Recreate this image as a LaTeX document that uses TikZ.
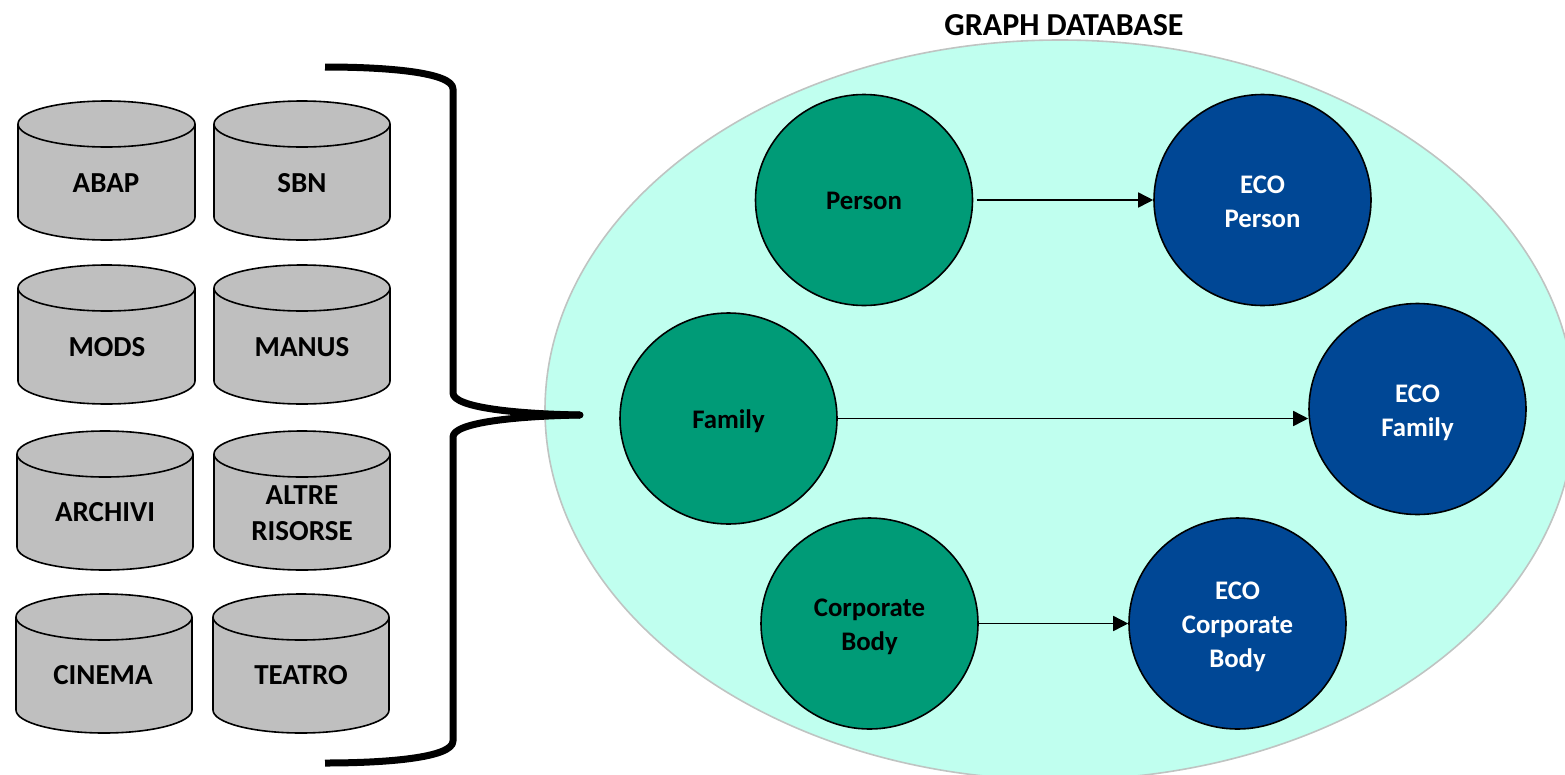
\documentclass[tikz,border=0pt]{standalone}
\usepackage{fontspec}
\setmainfont{Carlito}
\usetikzlibrary{shapes.geometric,arrows.meta}
\definecolor{cylgray}{HTML}{BFBFBF}
\definecolor{dbfill}{HTML}{C0FFEF}
\definecolor{dbline}{HTML}{BFC4C2}
\definecolor{srcgreen}{HTML}{009B77}
\definecolor{ecoblue}{HTML}{004795}
\tikzset{
  dbtext/.style={font=\fontsize{29}{36}\selectfont\bfseries, align=center, inner sep=0pt, text=black},
  circletext/.style={font=\fontsize{26.8}{34}\selectfont\bfseries, align=center, inner sep=0pt},
  srcnode/.style={ellipse, draw=black, line width=1.6pt, fill=srcgreen, minimum width=217pt, minimum height=211pt, inner sep=0pt},
  econode/.style={ellipse, draw=black, line width=1.6pt, fill=ecoblue, minimum width=217pt, minimum height=211pt, inner sep=0pt},
  srclabel/.style={circletext, text=black},
  ecolabel/.style={circletext, text=white},
  flow/.style={draw=black, line width=1.6pt, -{Triangle[length=15pt,width=15pt]}},
  bracket/.style={draw=black, line width=7pt, line cap=butt, line join=round},
  cylbody/.style={draw=black, line width=1.6pt, fill=cylgray}
}
% #1 name, #2 left, #3 top, #4 width, #5 text x, #6 text y, #7 text
\newcommand{\dbcyl}[7]{%
  \draw[cylbody] (#2,#3+23) -- (#2,#3+116)
    arc[start angle=180,end angle=360,x radius=#4/2,y radius=-23]
    -- (#2+#4,#3+23)
    arc[start angle=0,end angle=180,x radius=#4/2,y radius=-23] -- cycle;
  \draw[cylbody, fill=none] (#2,#3+23) arc[start angle=-180,end angle=0,x radius=#4/2,y radius=-23];
  \node[dbtext] (#1) at (#5,#6) {#7};
}
\begin{document}
\begin{tikzpicture}[x=1pt,y=-1pt]
\useasboundingbox (0,0) rectangle (1565,774);
\begin{scope}
  \clip (0,0) rectangle (1565,774);
  \node[ellipse, draw=dbline, line width=1.6pt, fill=dbfill, minimum width=1030pt, minimum height=740pt, inner sep=0pt] (graphdb) at (1060,410) {};
\end{scope}
\node[font=\fontsize{32}{36}\selectfont\bfseries, inner sep=0pt] (title) at (1064,25) {GRAPH DATABASE};

\dbcyl{abap}{18}{101}{177}{106}{183}{ABAP}
\dbcyl{sbn}{214}{101}{176}{302}{183}{SBN}
\dbcyl{mods}{18}{265}{177}{107}{347}{MODS}
\dbcyl{manus}{214}{265}{176}{302}{347}{MANUS}
\dbcyl{archivi}{17}{431}{176}{105}{512}{ARCHIVI}
\dbcyl{altre}{214}{431}{176}{302}{513}{ALTRE\\RISORSE}
\dbcyl{cinema}{16}{594}{176}{103}{675}{CINEMA}
\dbcyl{teatro}{213}{594}{176}{301}{675}{TEATRO}

\coordinate (bt) at (325,67);
\coordinate (bm) at (580,415);
\coordinate (bb) at (325,763);
\draw[bracket] (bt) .. controls (385,67) and (453,72) .. (453,89) -- (453,393)
  .. controls (453,408) and (520,414) .. (bm);
\draw[bracket] (bb) .. controls (385,763) and (453,758) .. (453,741) -- (453,437)
  .. controls (453,422) and (520,416) .. (bm);
\fill (bm) circle[radius=3.5pt];

\node[srcnode] (person) at (864,200) {};
\node[srclabel] (personlabel) at (864,201) {Person};
\node[econode] (ecoperson) at (1262.5,200) {};
\node[ecolabel] (ecopersonlabel) at (1262.5,202) {ECO\\Person};
\node[srcnode] (family) at (728.5,418.5) {};
\node[srclabel] (familylabel) at (728.5,421.5) {Family};
\node[econode] (ecofamily) at (1417.5,409) {};
\node[ecolabel] (ecofamilylabel) at (1417.5,412.5) {ECO\\Family};
\node[srcnode] (corp) at (869.5,623.5) {};
\node[srclabel] (corplabel) at (869.5,627) {Corporate\\Body};
\node[econode] (ecocorp) at (1237.5,623.5) {};
\node[ecolabel] (ecocorplabel) at (1237.5,626.5) {ECO\\Corporate\\Body};

\draw[flow, shorten <=3.5pt] (person) -- (ecoperson);
\draw[flow] (family.east) -- (family.east -| ecofamily.west);
\draw[flow] (corp) -- (ecocorp);
\end{tikzpicture}
\end{document}
